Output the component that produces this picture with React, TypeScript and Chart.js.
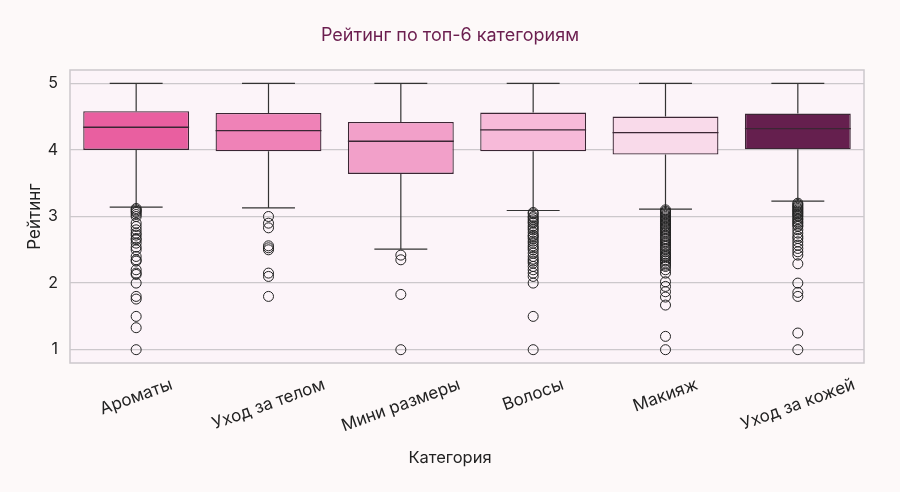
import React, { useEffect, useRef } from "react";
import { Chart, registerables } from "chart.js";

Chart.register(...registerables);

const categories = ["Ароматы", "Уход за телом", "Мини размеры", "Волосы", "Макияж", "Уход за кожей"];
const boxColors = ["#E95FA0", "#EF82B7", "#F2A0C9", "#F7BAD9", "#F9DAEA", "#651F4E"];
const q1 = [4.0, 3.98, 3.64, 3.98, 3.93, 4.01];
const medians = [4.34, 4.29, 4.13, 4.3, 4.26, 4.32];
const q3 = [4.58, 4.555, 4.42, 4.56, 4.5, 4.545];
const whiskerLow = [3.14, 3.13, 2.51, 3.09, 3.11, 3.23];
const whiskerHigh = [5, 5, 5, 5, 5, 5];
const yTicks = [1, 2, 3, 4, 5];
const xAxisTitle = "Категория";

const outAromaty = [3.12, 3.1, 3.08, 3.06, 3.03, 3.0, 2.9, 2.85, 2.8, 2.75, 2.72, 2.67, 2.65, 2.6, 2.54, 2.5, 2.4, 2.35, 2.33, 2.2, 2.15, 2.13, 2.0, 1.8, 1.76, 1.5, 1.33, 1.0];
const outTelo = [3.0, 2.9, 2.83, 2.56, 2.53, 2.5, 2.15, 2.1, 1.8];
const outMini = [2.42, 2.35, 1.83, 1.0];
const outVolosy = [3.06, 3.04, 3.0, 2.98, 2.95, 2.92, 2.9, 2.86, 2.83, 2.8, 2.76, 2.72, 2.7, 2.67, 2.63, 2.6, 2.56, 2.53, 2.5, 2.45, 2.4, 2.36, 2.33, 2.3, 2.25, 2.2, 2.15, 2.1, 2.0, 1.5, 1.0];
const outMakiyazh = [3.1, 3.08, 3.06, 3.04, 3.02, 3.0, 2.98, 2.96, 2.94, 2.92, 2.9, 2.88, 2.86, 2.84, 2.82, 2.8, 2.77, 2.75, 2.72, 2.7, 2.67, 2.65, 2.62, 2.6, 2.57, 2.55, 2.52, 2.5, 2.47, 2.44, 2.42, 2.4, 2.38, 2.35, 2.33, 2.3, 2.27, 2.25, 2.2, 2.15, 2.02, 1.95, 1.87, 1.79, 1.67, 1.2, 1.0];
const outKozha = [3.2, 3.18, 3.16, 3.14, 3.12, 3.1, 3.08, 3.06, 3.04, 3.02, 3.0, 2.97, 2.95, 2.92, 2.9, 2.87, 2.85, 2.8, 2.75, 2.7, 2.67, 2.62, 2.57, 2.52, 2.47, 2.42, 2.29, 2.0, 1.86, 1.8, 1.25, 1.0];
const outliersByCategory = [outAromaty, outTelo, outMini, outVolosy, outMakiyazh, outKozha];

const PAGE_BG = "#FDF9F9";
const PLOT_BG = "#FCF4F9";
const FONT = "Inter, 'DejaVu Sans', sans-serif";

const boxPlugin = {
  id: "boxParts",
  beforeDraw(chart: any) {
    const { ctx, chartArea } = chart;
    ctx.save();
    ctx.fillStyle = PAGE_BG;
    ctx.fillRect(0, 0, chart.width, chart.height);
    ctx.fillStyle = PLOT_BG;
    ctx.fillRect(chartArea.left, chartArea.top, chartArea.right - chartArea.left, chartArea.bottom - chartArea.top);
    ctx.restore();
  },
  beforeDatasetsDraw(chart: any) {
    const { ctx } = chart;
    const y = chart.scales.y;
    const meta = chart.getDatasetMeta(0);
    ctx.save();
    ctx.strokeStyle = "#333333";
    ctx.lineWidth = 1.2;
    meta.data.forEach((bar: any, i: number) => {
      const x = bar.x;
      const cap = bar.width / 4;
      const yLo = y.getPixelForValue(whiskerLow[i]);
      const yHi = y.getPixelForValue(whiskerHigh[i]);
      const yQ1 = y.getPixelForValue(q1[i]);
      const yQ3 = y.getPixelForValue(q3[i]);
      ctx.beginPath();
      ctx.moveTo(x, yQ1);
      ctx.lineTo(x, yLo);
      ctx.moveTo(x, yQ3);
      ctx.lineTo(x, yHi);
      ctx.moveTo(x - cap, yLo);
      ctx.lineTo(x + cap, yLo);
      ctx.moveTo(x - cap, yHi);
      ctx.lineTo(x + cap, yHi);
      ctx.stroke();
    });
    ctx.restore();
  },
  afterDatasetsDraw(chart: any) {
    const { ctx } = chart;
    const y = chart.scales.y;
    const meta = chart.getDatasetMeta(0);
    ctx.save();
    ctx.strokeStyle = "#3b2634";
    ctx.lineWidth = 1.3;
    meta.data.forEach((bar: any, i: number) => {
      const half = bar.width / 2;
      const ym = y.getPixelForValue(medians[i]);
      ctx.beginPath();
      ctx.moveTo(bar.x - half, ym);
      ctx.lineTo(bar.x + half, ym);
      ctx.stroke();
    });
    ctx.restore();
  },
  afterDraw(chart: any) {
    const { ctx, chartArea } = chart;
    const x = chart.scales.x;
    ctx.save();
    ctx.strokeStyle = "#CCC8CC";
    ctx.lineWidth = 1.5;
    ctx.strokeRect(chartArea.left, chartArea.top, chartArea.right - chartArea.left, chartArea.bottom - chartArea.top);
    // rotated, centred category labels
    const angle = (20 * Math.PI) / 180;
    const size = 17;
    ctx.font = `${size}px ${FONT}`;
    ctx.fillStyle = "#222222";
    ctx.textAlign = "center";
    ctx.textBaseline = "middle";
    const top = chartArea.bottom + 13;
    categories.forEach((label, i) => {
      const px = x.getPixelForValue(i);
      const w = ctx.measureText(label).width;
      const h = size;
      const bboxH = w * Math.sin(angle) + h * Math.cos(angle);
      ctx.save();
      ctx.translate(px, top + bboxH / 2);
      ctx.rotate(-angle);
      ctx.fillText(label, 0, 0);
      ctx.restore();
    });
    // x axis title centred on the figure
    ctx.font = `16.5px ${FONT}`;
    ctx.fillText(xAxisTitle, chart.width / 2, chartArea.bottom + 95);
    ctx.restore();
  },
};

export default function App() {
  const ref = useRef<HTMLCanvasElement>(null);
  useEffect(() => {
    if (!ref.current) return;
    const outlierPoints: { x: string; y: number }[] = [];
    outliersByCategory.forEach((arr, i) => arr.forEach((v) => outlierPoints.push({ x: categories[i], y: v })));
    const chart = new Chart(ref.current, {
      type: "bar",
      data: {
        labels: categories,
        datasets: [
          {
            type: "bar",
            data: categories.map((_, i) => [q1[i], q3[i]]) as any,
            backgroundColor: boxColors,
            borderColor: "#3b2634",
            borderWidth: 1.3,
            borderSkipped: false,
            barPercentage: 0.8,
            categoryPercentage: 1,
          } as any,
          {
            type: "line",
            data: outlierPoints as any,
            showLine: false,
            pointRadius: 5,
            pointBorderWidth: 1,
            pointBorderColor: "#222222",
            pointBackgroundColor: "rgba(0,0,0,0)",
          } as any,
        ],
      },
      options: {
        responsive: false,
        animation: false,
        layout: { padding: { left: 0, right: 0, top: 0, bottom: 0 } },
        plugins: {
          legend: { display: false },
          tooltip: { enabled: false },
          title: {
            display: true,
            text: "Рейтинг по топ-6 категориям",
            color: "#6B1E4F",
            font: { family: FONT, size: 18, weight: "normal" },
            padding: { top: 25, bottom: 23.4 },
          },
        },
        scales: {
          x: {
            type: "category",
            grid: { display: false },
            border: { display: false },
            ticks: { display: false },
            title: { display: false },
            afterFit: (scale: any) => {
              scale.height = 129;
            },
          },
          y: {
            min: 0.8,
            max: 5.2,
            afterBuildTicks: (scale: any) => {
              scale.ticks = yTicks.map((v) => ({ value: v }));
            },
            grid: { color: "#CCC8CC", lineWidth: 1.2, drawTicks: false },
            border: { display: false },
            ticks: {
              color: "#222222",
              font: { family: FONT, size: 16 },
              padding: 12,
            },
            title: {
              display: true,
              text: "Рейтинг",
              color: "#222222",
              font: { family: FONT, size: 17 },
              padding: { top: 25, bottom: 0 },
            },
            afterFit: (scale: any) => {
              scale.width = 70;
            },
          },
          yRight: {
            type: "linear",
            position: "right",
            display: true,
            grid: { display: false },
            border: { display: false },
            ticks: { display: false },
            afterFit: (scale: any) => {
              scale.width = 36;
            },
          },
        },
      },
      plugins: [boxPlugin],
    });
    return () => chart.destroy();
  }, []);
  return (
    <div style={{ position: "fixed", left: 0, top: 0, width: 900, height: 492, background: PAGE_BG }}>
      <canvas ref={ref} width={900} height={492} />
    </div>
  );
}
